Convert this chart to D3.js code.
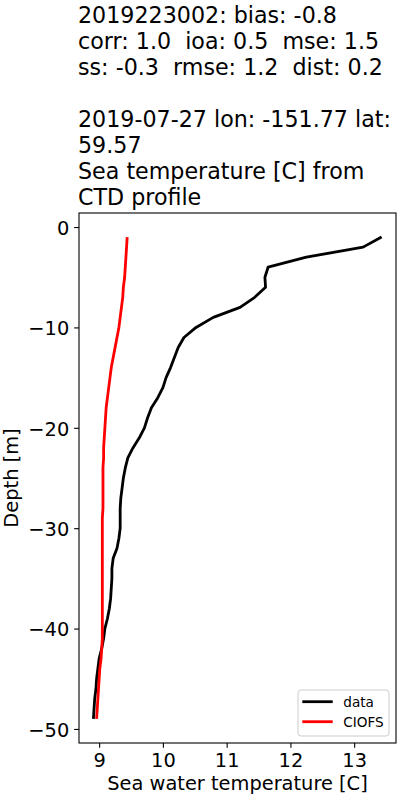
<!doctype html>
<html lang="en">
<head>
<meta charset="UTF-8" />
<title>CTD profile</title>
<script src="https://d3js.org/d3.v7.min.js"></script>
<style>
  body { margin: 0; background: #fff; }
  text { font-family: "DejaVu Sans", sans-serif; white-space: pre; }
</style>
</head>
<body>
<div id="chart"></div>
<script>
// depth of each sample [m]
var depths = [-1, -2, -3, -4, -5, -6, -7, -8, -9, -10,
    -11, -12, -13, -14, -15, -16, -17, -18, -19, -20,
    -21, -22, -23, -24, -25, -26, -27, -28, -29, -30,
    -31, -32, -33, -34, -35, -36, -37, -38, -39, -40,
    -41, -42, -43, -44, -45, -46, -47, -48, -49];

// observed CTD temperature
var dataTemp = [13.43, 13.14, 12.25, 11.65, 11.60, 11.61, 11.44, 11.21, 10.79, 10.52,
    10.33, 10.24, 10.18, 10.12, 10.05, 10.00, 9.92, 9.82, 9.76, 9.71,
    9.63, 9.53, 9.45, 9.41, 9.38, 9.36, 9.34, 9.33, 9.33, 9.33,
    9.31, 9.28, 9.22, 9.20, 9.20, 9.19, 9.18, 9.16, 9.13, 9.09,
    9.07, 9.04, 9.00, 8.98, 8.96, 8.95, 8.93, 8.92, 8.91];

// model temperature
var ciofsTemp = [9.44, 9.43, 9.42, 9.41, 9.40, 9.38, 9.37, 9.35, 9.33, 9.31,
    9.28, 9.25, 9.22, 9.19, 9.17, 9.15, 9.13, 9.11, 9.10, 9.09,
    9.08, 9.07, 9.07, 9.06, 9.06, 9.06, 9.06, 9.06, 9.05, 9.05,
    9.05, 9.05, 9.05, 9.05, 9.05, 9.05, 9.05, 9.05, 9.05, 9.05,
    9.05, 9.04, 9.03, 9.01, 9.00, 8.99, 8.98, 8.97, 8.96];

var seriesNames = ['data', 'CIOFS'];
var seriesColors = ['#000000', '#ff0000'];

var xTicks = [9, 10, 11, 12, 13];
var yTicks = [0, -10, -20, -30, -40, -50];

var titleLines = [
    '2019223002: bias: -0.8',
    'corr: 1.0  ioa: 0.5  mse: 1.5',
    'ss: -0.3  rmse: 1.2  dist: 0.2',
    '',
    '2019-07-27 lon: -151.77 lat:',
    '59.57',
    'Sea temperature [C] from',
    'CTD profile'
];

(function () {
var W = 400, H = 800;
var mLeft = 79, mRight = 396, mTop = 213, mBottom = 743;

var svg = d3.select('#chart').append('svg')
    .attr('width', W)
    .attr('height', H);

// matplotlib style 5% margins
function padded(ext) {
    var p = (ext[1] - ext[0]) * 0.05;
    return [ext[0] - p, ext[1] + p];
}
var allT = dataTemp.concat(ciofsTemp);
var xScale = d3.scaleLinear().domain(padded(d3.extent(allT))).range([mLeft, mRight]);
var yScale = d3.scaleLinear().domain(padded(d3.extent(depths))).range([mBottom, mTop]);

// title
var title = svg.append('text')
    .attr('x', 78)
    .attr('y', 22.7)
    .attr('font-size', '22.2px')
    .attr('fill', '#000');
titleLines.forEach(function (t, i) {
    title.append('tspan')
        .attr('x', 78)
        .attr('y', 22.7 + i * 26)
        .text(t);
});

// lines
var series = [dataTemp, ciofsTemp];
var line = d3.line()
    .x(function (d) { return xScale(d[0]); })
    .y(function (d) { return yScale(d[1]); });

series.forEach(function (vals, i) {
    svg.append('path')
        .datum(vals.map(function (v, j) { return [v, depths[j]]; }))
        .attr('fill', 'none')
        .attr('stroke', seriesColors[i])
        .attr('stroke-width', 2.8)
        .attr('stroke-linejoin', 'round')
        .attr('d', line);
});

// axes
var fmt = function (d) { return String(d).replace('-', '\u2212'); };

var xAxis = svg.append('g')
    .attr('transform', 'translate(0,' + mBottom + ')')
    .call(d3.axisBottom(xScale).tickValues(xTicks).tickSize(4.86).tickPadding(4.86).tickFormat(fmt));
var yAxis = svg.append('g')
    .attr('transform', 'translate(' + mLeft + ',0)')
    .call(d3.axisLeft(yScale).tickValues(yTicks).tickSize(4.86).tickPadding(4.86).tickFormat(fmt));

[xAxis, yAxis].forEach(function (a) {
    a.select('.domain').remove();
    a.attr('font-size', null).attr('font-family', null);
    a.selectAll('.tick line').attr('stroke', '#000').attr('stroke-width', 1.1);
    a.selectAll('.tick text')
        .attr('fill', '#000')
        .style('font-size', '19.4px');
});
xAxis.selectAll('.tick text').attr('dy', '0.73em');
yAxis.selectAll('.tick text').attr('dy', '0.38em');

// frame
svg.append('rect')
    .attr('x', mLeft)
    .attr('y', mTop)
    .attr('width', mRight - mLeft)
    .attr('height', mBottom - mTop)
    .attr('fill', 'none')
    .attr('stroke', '#000')
    .attr('stroke-width', 1.1);

// axis labels
svg.append('text')
    .attr('x', (mLeft + mRight) / 2)
    .attr('y', 790)
    .attr('text-anchor', 'middle')
    .attr('font-size', '19.4px')
    .text('Sea water temperature [C]');

svg.append('text')
    .attr('transform', 'translate(18,' + ((mTop + mBottom) / 2) + ') rotate(-90)')
    .attr('text-anchor', 'middle')
    .attr('font-size', '19.4px')
    .text('Depth [m]');

// legend
var lg = svg.append('g').attr('transform', 'translate(298,690)');
lg.append('rect')
    .attr('x', 0)
    .attr('y', 0)
    .attr('width', 91)
    .attr('height', 46)
    .attr('rx', 3)
    .attr('fill', '#fff')
    .attr('fill-opacity', 0.8)
    .attr('stroke', '#cccccc')
    .attr('stroke-width', 1);
seriesNames.forEach(function (name, i) {
    var yy = 11.7 + i * 20;
    lg.append('line')
        .attr('x1', 4.3)
        .attr('x2', 34.7)
        .attr('y1', yy)
        .attr('y2', yy)
        .attr('stroke', seriesColors[i])
        .attr('stroke-width', 2.8);
    lg.append('text')
        .attr('x', 45.3)
        .attr('y', yy + 5)
        .attr('font-size', '13.6px')
        .attr('fill', '#000')
        .text(name);
});
})();
</script>
</body>
</html>
